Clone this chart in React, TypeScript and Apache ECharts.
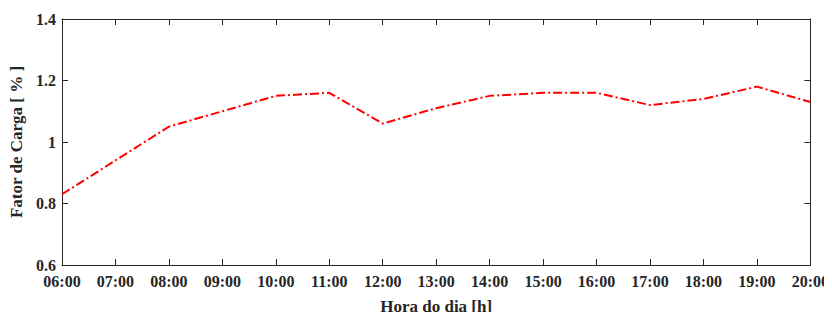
import React, { useEffect, useRef } from "react";
import * as echarts from "echarts";

const hours = ["06:00", "07:00", "08:00", "09:00", "10:00", "11:00", "12:00", "13:00", "14:00", "15:00", "16:00", "17:00", "18:00", "19:00", "20:00"];
const loadFactor = [0.83, 0.94, 1.05, 1.1, 1.15, 1.16, 1.06, 1.11, 1.15, 1.16, 1.16, 1.12, 1.14, 1.18, 1.13];
const yMin = 0.6;
const yMax = 1.4;
const yStep = 0.2;

const FONT = "'Liberation Serif', 'DejaVu Serif', serif";
const AXIS_COLOR = "#262626";

export default function App() {
  const ref = useRef<HTMLDivElement>(null);
  useEffect(() => {
    if (!ref.current) return;
    const chart = echarts.init(ref.current, undefined, { renderer: "svg" });
    const labelStyle = { color: AXIS_COLOR, fontFamily: FONT, fontWeight: "bold" as const, fontSize: 16 };
    chart.setOption({
      animation: false,
      backgroundColor: "#fff",
      grid: { left: 62, right: 19, top: 19, bottom: 51, containLabel: false },
      xAxis: [
        {
          type: "category",
          data: hours,
          boundaryGap: false,
          name: "Hora do dia [h]",
          nameLocation: "middle",
          nameGap: 33,
          nameTextStyle: { ...labelStyle, fontSize: 17 },
          axisLine: { show: true, lineStyle: { color: AXIS_COLOR, width: 1 } },
          axisTick: { show: true, inside: true, length: 6, lineStyle: { color: AXIS_COLOR } },
          axisLabel: { ...labelStyle, margin: 8, interval: 0 },
          splitLine: { show: false },
        },
        {
          type: "category",
          data: hours,
          boundaryGap: false,
          position: "top",
          axisLine: { show: true, lineStyle: { color: AXIS_COLOR, width: 1 } },
          axisTick: { show: true, inside: true, length: 6, lineStyle: { color: AXIS_COLOR }, interval: 0 },
          axisLabel: { show: false },
          splitLine: { show: false },
        },
      ],
      yAxis: [
        {
          type: "value",
          min: yMin,
          max: yMax,
          interval: yStep,
          name: "Fator de Carga [ % ]",
          nameLocation: "middle",
          nameGap: 31,
          nameTextStyle: { ...labelStyle, fontSize: 17 },
          axisLine: { show: true, lineStyle: { color: AXIS_COLOR, width: 1 } },
          axisTick: { show: true, inside: true, length: 6, lineStyle: { color: AXIS_COLOR } },
          axisLabel: { ...labelStyle, margin: 6, formatter: (v: number) => String(Math.round(v * 10) / 10) },
          splitLine: { show: false },
        },
        {
          type: "value",
          min: yMin,
          max: yMax,
          interval: yStep,
          position: "right",
          axisLine: { show: true, lineStyle: { color: AXIS_COLOR, width: 1 } },
          axisTick: { show: true, inside: true, length: 6, lineStyle: { color: AXIS_COLOR } },
          axisLabel: { show: false },
          splitLine: { show: false },
        },
      ],
      series: [
        {
          type: "line",
          data: loadFactor,
          xAxisIndex: 0,
          yAxisIndex: 0,
          showSymbol: false,
          symbol: "none",
          lineStyle: { color: "#ff0000", width: 2, type: [9, 3, 2, 3] },
        },
      ],
    });
    return () => chart.dispose();
  }, []);
  return <div ref={ref} style={{ width: 832, height: 320, margin: -8 }} />;
}
